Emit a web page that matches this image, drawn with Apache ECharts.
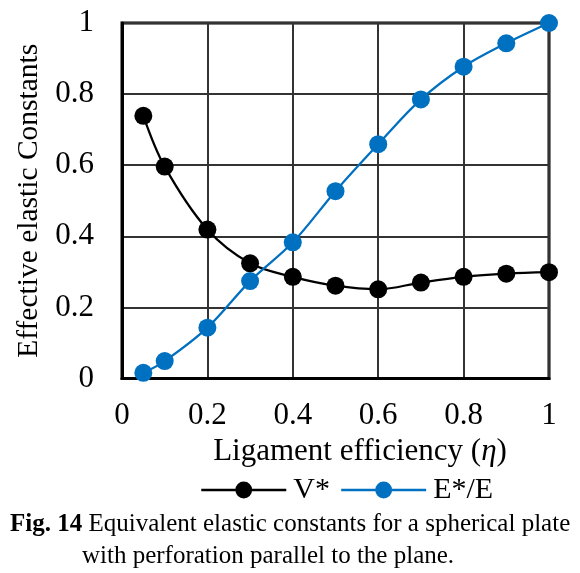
<!DOCTYPE html>
<html>
<head>
<meta charset="utf-8">
<script src="https://cdn.jsdelivr.net/npm/echarts@6/dist/echarts.min.js"></script>
<style>
html,body{margin:0;padding:0;background:#fff;}
#chart{width:580px;height:573px;}
</style>
</head>
<body>
<div id="chart"></div>
<script>
var eta = [0.05, 0.1, 0.2, 0.3, 0.4, 0.5, 0.6, 0.7, 0.8, 0.9, 1.0];
var vStar = [0.739, 0.596, 0.419, 0.324, 0.286, 0.261, 0.251, 0.270, 0.286, 0.295, 0.299];
var eRatio = [0.016, 0.049, 0.143, 0.274, 0.383, 0.527, 0.659, 0.785, 0.877, 0.943, 1.0];
var seriesNames = ['V*', 'E*/E'];
var xTitle = 'Ligament efficiency (';
var yTitle = 'Effective elastic Constants';
var captionBold = 'Fig. 14';
var captionLine1 = ' Equivalent elastic constants for a spherical plate';
var captionLine2 = 'with perforation parallel to the plane.';

function pairs(xs, ys){ return xs.map(function(x,i){ return [x, ys[i]]; }); }

var FONT = '"Liberation Serif", "Times New Roman", serif';
var chart = echarts.init(document.getElementById('chart'), null, {renderer:'canvas'});
chart.setOption({
  animation:false,
  backgroundColor:'#fff',
  textStyle:{fontFamily:FONT},
  grid:{left:122, right:31, top:23, bottom:194.5, show:true, borderColor:'#000', borderWidth:3, containLabel:false},
  xAxis:{
    type:'value', min:0, max:1, interval:0.2,
    name: '{n|' + xTitle + '}{i|η}{n|)}',
    nameLocation:'middle', nameGap:45,
    nameTextStyle:{padding:[0,0,0,49], rich:{n:{fontFamily:FONT,fontSize:31,color:'#000'}, i:{fontFamily:FONT,fontSize:31,fontStyle:'italic',color:'#000'}}},
    axisLine:{show:true, lineStyle:{color:'#000', width:3}},
    axisTick:{show:false},
    axisLabel:{color:'#000', fontSize:31, fontFamily:FONT, margin:22},
    splitLine:{show:true, lineStyle:{color:'#333', width:2}}
  },
  yAxis:{
    type:'value', min:0, max:1, interval:0.2,
    name: yTitle, nameLocation:'middle', nameGap:74, nameRotate:90,
    nameTextStyle:{color:'#000', fontSize:29.5, fontFamily:FONT},
    axisLine:{show:true, lineStyle:{color:'#000', width:3}},
    axisTick:{show:false},
    axisLabel:{color:'#000', fontSize:31, fontFamily:FONT, margin:28},
    splitLine:{show:true, lineStyle:{color:'#333', width:2}}
  },
  legend:{
    data:seriesNames, left:195, top:470, itemWidth:85, itemHeight:21, itemGap:10,
    lineStyle:{width:2.5},
    textStyle:{color:'#000', fontSize:30, fontFamily:FONT, padding:[0,0,0,2]}
  },
  series:[
    {name:seriesNames[0], type:'line', data:pairs(eta, vStar), smooth:0.35,
     symbol:'circle', symbolSize:18, color:'#000',
     lineStyle:{color:'#000', width:2.25}, itemStyle:{color:'#000'}},
    {name:seriesNames[1], type:'line', data:pairs(eta, eRatio), smooth:0.35,
     symbol:'circle', symbolSize:18, color:'#0070C0',
     lineStyle:{color:'#0070C0', width:2.25}, itemStyle:{color:'#0070C0'}}
  ],
  graphic:[
    {type:'text', left:10, top:512, style:{
      text:'{b|' + captionBold + '}{r|' + captionLine1 + '}',
      rich:{b:{fontFamily:FONT, fontSize:25, fontWeight:'bold', fill:'#000'}, r:{fontFamily:FONT, fontSize:25, fill:'#000'}}
    }},
    {type:'text', left:82, top:544, style:{
      text:captionLine2, fontFamily:FONT, fontSize:25, fill:'#000'
    }}
  ]
});
</script>
</body>
</html>
